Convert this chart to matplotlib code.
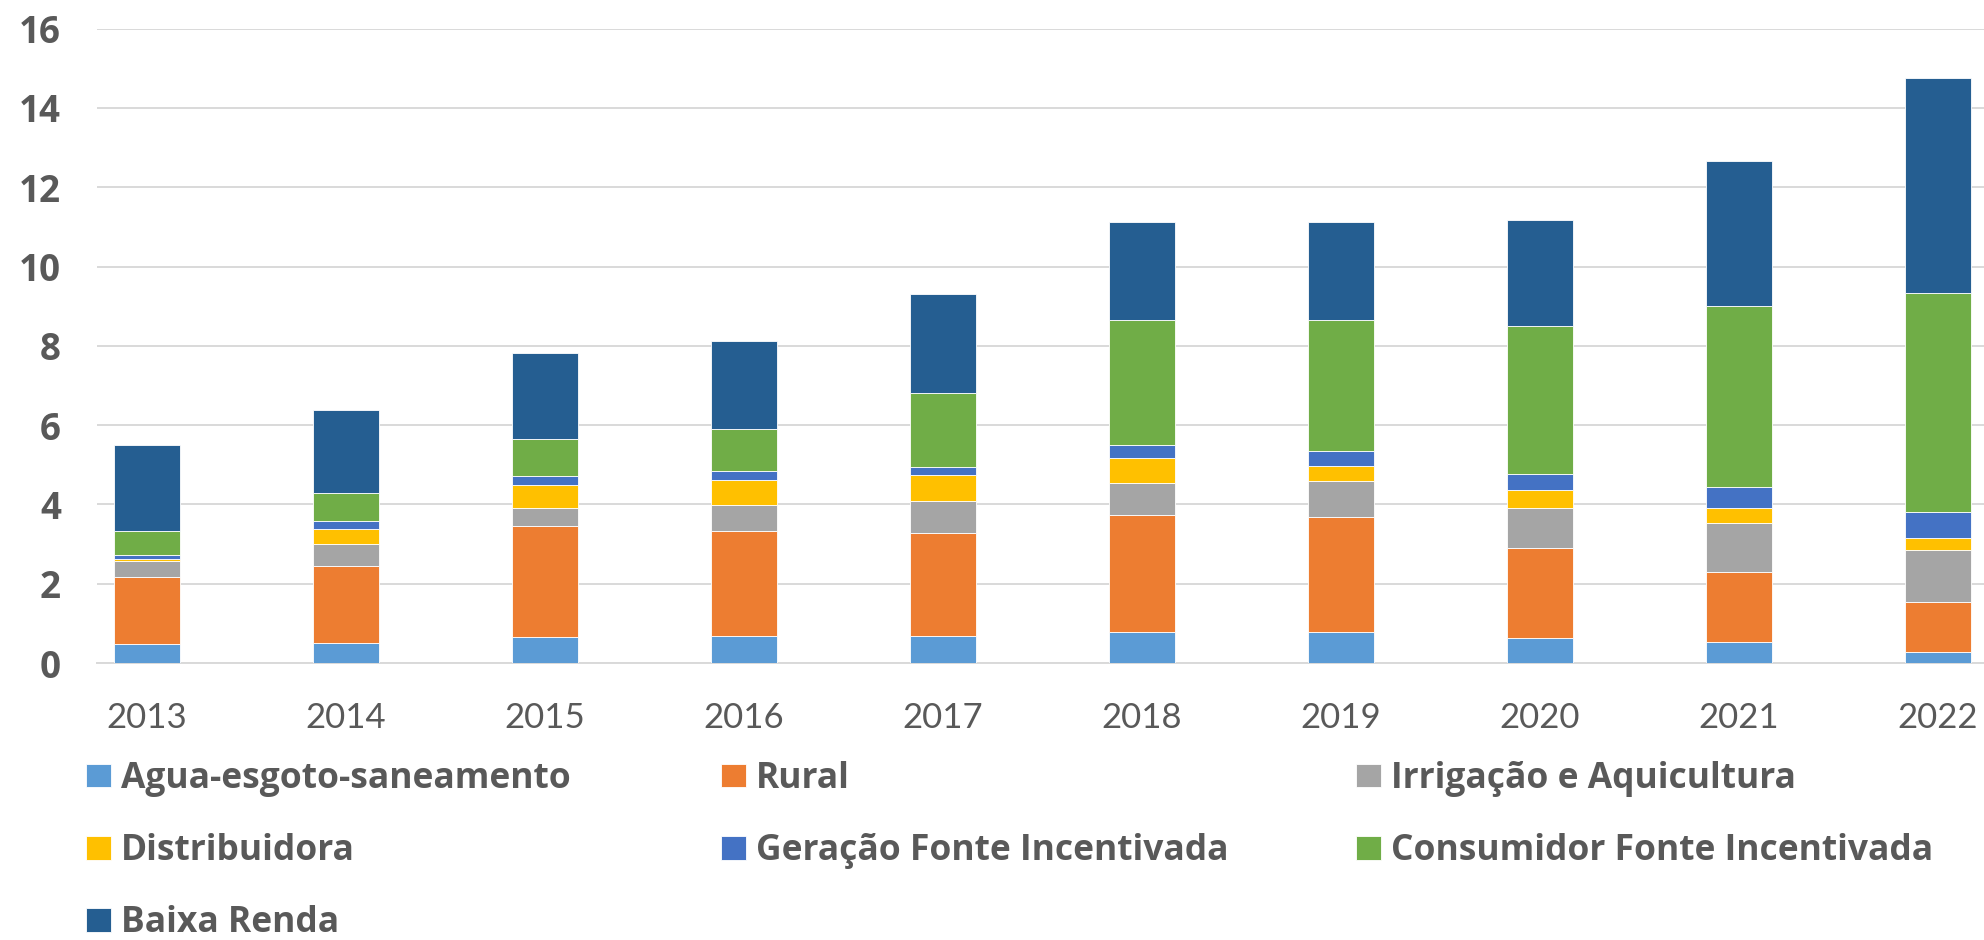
import numpy as np
import matplotlib
matplotlib.use("Agg")
import matplotlib.pyplot as plt

# Data
anos = ['2013', '2014', '2015', '2016', '2017', '2018', '2019', '2020', '2021', '2022']
agua = [0.47, 0.51, 0.66, 0.69, 0.69, 0.78, 0.79, 0.62, 0.53, 0.29]
rural = [1.71, 1.94, 2.79, 2.63, 2.60, 2.96, 2.90, 2.29, 1.76, 1.24]
irrigacao = [0.39, 0.55, 0.47, 0.66, 0.79, 0.79, 0.90, 1.01, 1.25, 1.31]
distribuidora = [0.05, 0.39, 0.57, 0.63, 0.65, 0.65, 0.39, 0.44, 0.37, 0.31]
geracao = [0.11, 0.18, 0.22, 0.23, 0.22, 0.32, 0.36, 0.41, 0.52, 0.65]
consumidor = [0.59, 0.72, 0.95, 1.06, 1.87, 3.15, 3.31, 3.74, 4.57, 5.54]
baixa_renda = [2.19, 2.10, 2.17, 2.23, 2.49, 2.46, 2.48, 2.66, 3.65, 5.41]

series = [
    ('Agua-esgoto-saneamento', agua, '#5B9BD5'),
    ('Rural', rural, '#ED7D31'),
    ('Irrigação e Aquicultura', irrigacao, '#A5A5A5'),
    ('Distribuidora', distribuidora, '#FFC000'),
    ('Geração Fonte Incentivada', geracao, '#4472C4'),
    ('Consumidor Fonte Incentivada', consumidor, '#70AD47'),
    ('Baixa Renda', baixa_renda, '#255E91'),
]

plt.rcParams['font.family'] = ['Lato', 'DejaVu Sans']
txt = '#595959'

W, H = 1984, 940
fig = plt.figure(figsize=(W / 100, H / 100), dpi=100)
# axes in pixels: left 97, right 1984, bottom y=663, top y=28.6
ax = fig.add_axes([97 / W, (H - 663) / H, (W - 97) / W, (663 - 28.6) / H])

x = np.arange(len(anos))
bottom = np.zeros(len(anos))
handles = []
for name, vals, col in series:
    b = ax.bar(x, vals, width=0.33, bottom=bottom, color=col, label=name,
               edgecolor='white', linewidth=0.6, zorder=3)
    handles.append(b)
    bottom += np.array(vals)

ax.set_xlim(-0.251, 9.231)
ax.set_ylim(0, 16)
ax.set_yticks(np.arange(0, 17, 2))
ax.set_xticks(x)
ax.set_xticklabels(anos)
ax.grid(axis='y', color='#D9D9D9', linewidth=1.4, zorder=0)
for s in ['top', 'right', 'left']:
    ax.spines[s].set_visible(False)
ax.spines['bottom'].set_color('#D9D9D9')
ax.spines['bottom'].set_linewidth(1.4)
ax.tick_params(axis='both', length=0)
ax.tick_params(axis='y', pad=26, labelcolor=txt)
ax.tick_params(axis='x', pad=28, labelsize=25, labelcolor=txt)
for lab in ax.get_yticklabels():
    lab.set_fontfamily(['Open Sans', 'DejaVu Sans'])
    lab.set_fontweight('bold')
    lab.set_fontsize(26.5)

# legend: three columns placed like the original (row-wise order)
cols = [(86, [0, 3, 6]), (721, [1, 4]), (1356, [2, 5])]
for xpix, idx in cols:
    leg = fig.legend([handles[i] for i in idx], [series[i][0] for i in idx],
                     loc='upper left', bbox_to_anchor=(xpix / W, 1 - 761 / H),
                     frameon=False, borderaxespad=0, borderpad=0,
                     handlelength=0.7, handleheight=0.65, handletextpad=0.28,
                     labelspacing=1.02,
                     prop={'family': ['Open Sans', 'DejaVu Sans'],
                           'size': 25.5, 'weight': 'bold'})
    for t in leg.get_texts():
        t.set_color(txt)

fig.savefig('out.png', dpi=100)
